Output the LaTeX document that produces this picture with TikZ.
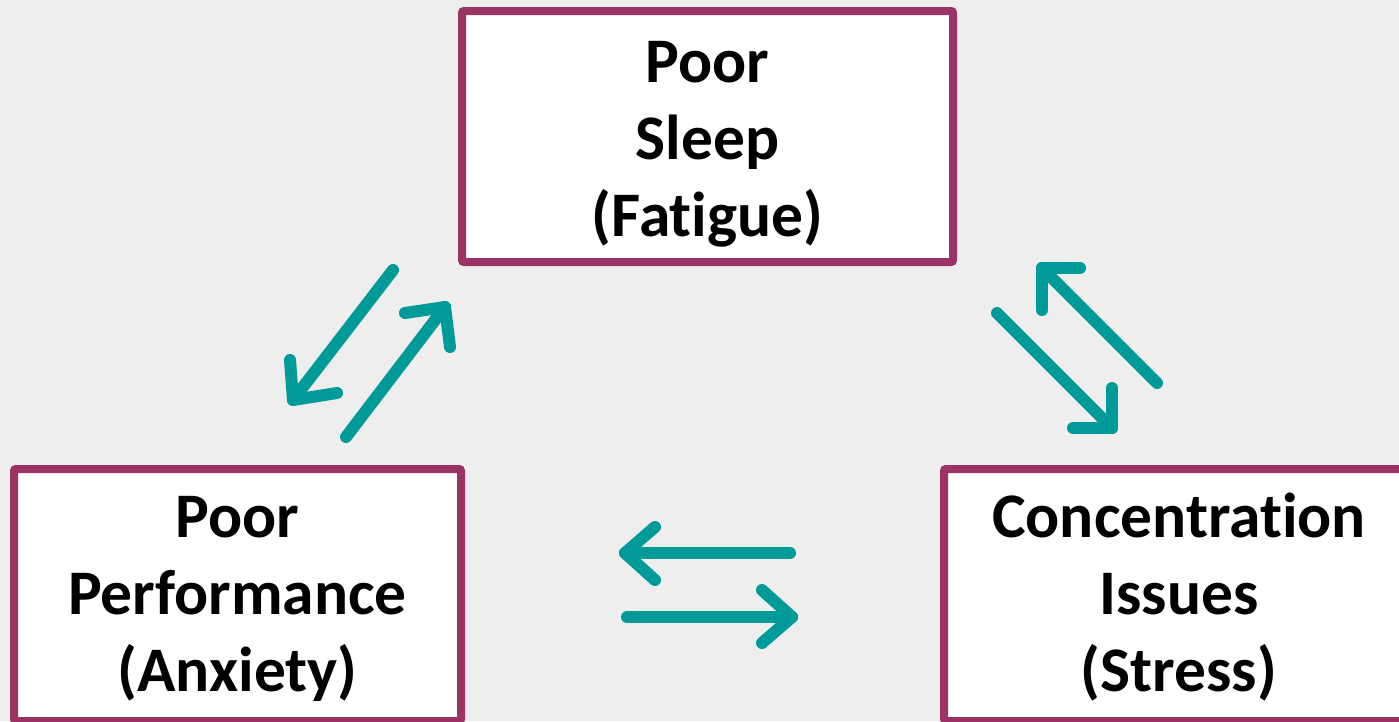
\documentclass[tikz,border=0pt]{standalone}
\usepackage{fontspec}
\setmainfont[Ligatures={NoCommon}]{Carlito}
\usetikzlibrary{calc}
\definecolor{bgc}{HTML}{EDEEED}
\definecolor{bord}{HTML}{9B3366}
\definecolor{teal2}{HTML}{009B98}
\tikzset{
  box/.style={draw=bord, fill=white, line width=8pt, rounded corners=2pt, inner sep=0pt},
  lbl/.style={align=center, font=\fontsize{63.5}{77}\selectfont\bfseries, text=black, inner sep=0pt},
  arr/.style={draw=teal2, line width=12pt, line cap=round, line join=round},
}
\begin{document}
\begin{tikzpicture}[x=1pt,y=-1pt]
\path[use as bounding box, fill=bgc] (0,0) rectangle (1399,721);
\clip (0,0) rectangle (1399,721);
% boxes
\node[box, minimum width=491pt, minimum height=251pt] (sleep) at (707.5,136.5) {};
\node[box, minimum width=447pt, minimum height=252pt] (perf) at (237.5,595) {};
\node[box, minimum width=496pt, minimum height=252pt] (conc) at (1192,595) {};
% labels (anchor base = baseline of last line)
\node[lbl, anchor=base] (sleeptxt) at (707.5,236) {Poor\\Sleep\\(Fatigue)};
\node[lbl, anchor=base] (perftxt) at (237.5,691) {Poor\\Performance\\(Anxiety)};
\node[lbl, anchor=base] (conctxt) at (1179,691) {Concentration\\Issues\\(Stress)};
% arrow end points
\coordinate (a1s) at (393,270); \coordinate (a1e) at (293,400);
\coordinate (a2s) at (346,437); \coordinate (a2e) at (445,307);
\coordinate (a3s) at (1157,383); \coordinate (a3e) at (1042,268);
\coordinate (a4s) at (997,313); \coordinate (a4e) at (1112,428);
\coordinate (a5s) at (790,553); \coordinate (a5e) at (625,553);
\coordinate (a6s) at (627,617); \coordinate (a6e) at (792,617);
% shafts
\draw[arr] (a1s) -- (a1e);
\draw[arr] (a2s) -- (a2e);
\draw[arr] (a3s) -- (a3e);
\draw[arr] (a4s) -- (a4e);
\draw[arr] (a5s) -- (a5e);
\draw[arr] (a6s) -- (a6e);
% heads
\draw[arr] ($(a1e)+(-3,-40)$) -- (a1e) -- ($(a1e)+(44,-7)$);
\draw[arr] ($(a2e)+(-40,6)$) -- (a2e) -- ($(a2e)+(5,40)$);
\draw[arr] ($(a3e)+(38,0)$) -- (a3e) -- ($(a3e)+(0,42)$);
\draw[arr] ($(a4e)+(0,-40)$) -- (a4e) -- ($(a4e)+(-39,0)$);
\draw[arr] ($(a5e)+(30,-26)$) -- (a5e) -- ($(a5e)+(30,27)$);
\draw[arr] ($(a6e)+(-30,-27)$) -- (a6e) -- ($(a6e)+(-30,26)$);
\end{tikzpicture}
\end{document}
